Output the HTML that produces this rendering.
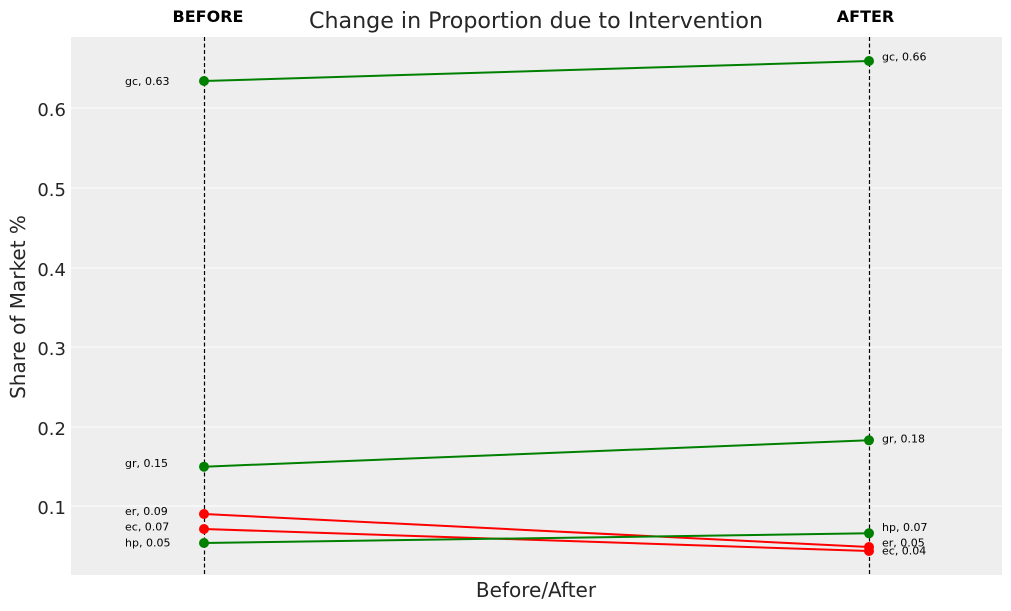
<!DOCTYPE html>
<html><head><meta charset="utf-8"><style>
html,body{margin:0;padding:0;background:#fff;}
svg{display:block;}
text{font-family:"DejaVu Sans","Liberation Sans",sans-serif;}
</style></head><body>
<svg width="1011" height="611" viewBox="0 0 1011 611" xmlns="http://www.w3.org/2000/svg">
<rect x="71" y="37" width="931" height="538" fill="#eeeeee"/>
<g stroke="#ffffff" stroke-width="1">
<line x1="71" y1="506" x2="1002" y2="506"/>
<line x1="71" y1="427" x2="1002" y2="427"/>
<line x1="71" y1="347" x2="1002" y2="347"/>
<line x1="71" y1="268" x2="1002" y2="268"/>
<line x1="71" y1="188" x2="1002" y2="188"/>
<line x1="71" y1="108" x2="1002" y2="108"/>
</g>
<g fill="#262626" font-size="18" text-anchor="end">
<text x="66" y="514">0.1</text>
<text x="66" y="435">0.2</text>
<text x="66" y="355">0.3</text>
<text x="66" y="276">0.4</text>
<text x="66" y="196">0.5</text>
<text x="66" y="116">0.6</text>
</g>
<g stroke="#000" stroke-width="1.2" stroke-dasharray="4,2.5">
<line x1="204.5" y1="37" x2="204.5" y2="575"/>
<line x1="869.5" y1="37" x2="869.5" y2="575"/>
</g>
<g stroke-width="2" fill="none">
<line x1="204" y1="81" x2="869" y2="61" stroke="#008000"/>
<line x1="204" y1="466.7" x2="869" y2="440.3" stroke="#008000"/>
<line x1="204" y1="514" x2="869" y2="547" stroke="#ff0000"/>
<line x1="204" y1="529" x2="869" y2="551" stroke="#ff0000"/>
<line x1="204" y1="543" x2="869" y2="533.3" stroke="#008000"/>
</g>
<g>
<circle cx="204" cy="81" r="5" fill="#008000"/>
<circle cx="869" cy="61" r="5" fill="#008000"/>
<circle cx="204" cy="466.7" r="5" fill="#008000"/>
<circle cx="869" cy="440.3" r="5" fill="#008000"/>
<circle cx="204" cy="514" r="5" fill="#ff0000"/>
<circle cx="869" cy="547" r="5" fill="#ff0000"/>
<circle cx="204" cy="529" r="5" fill="#ff0000"/>
<circle cx="869" cy="551" r="5" fill="#ff0000"/>
<circle cx="204" cy="543" r="5" fill="#008000"/>
<circle cx="869" cy="533.3" r="5" fill="#008000"/>
</g>
<g font-size="11" fill="#000">
<text x="125" y="85">gc, 0.63</text>
<text x="125" y="467">gr, 0.15</text>
<text x="125" y="515">er, 0.09</text>
<text x="125" y="530.7">ec, 0.07</text>
<text x="125" y="546.7">hp, 0.05</text>
<text x="882" y="60.6">gc, 0.66</text>
<text x="882" y="442.7">gr, 0.18</text>
<text x="882" y="531">hp, 0.07</text>
<text x="882" y="546.7">er, 0.05</text>
<text x="882" y="554.7">ec, 0.04</text>
</g>
<text x="208" y="22" font-size="16" font-weight="bold" text-anchor="middle" fill="#000">BEFORE</text>
<text x="865.5" y="22" font-size="16" font-weight="bold" text-anchor="middle" fill="#000">AFTER</text>
<text x="536" y="28" font-size="22" text-anchor="middle" fill="#262626" textLength="454" lengthAdjust="spacingAndGlyphs">Change in Proportion due to Intervention</text>
<text x="536" y="597" font-size="20" text-anchor="middle" fill="#262626">Before/After</text>
<text transform="translate(25,307) rotate(-90)" font-size="20" text-anchor="middle" fill="#262626">Share of Market %</text>
</svg>
</body></html>
